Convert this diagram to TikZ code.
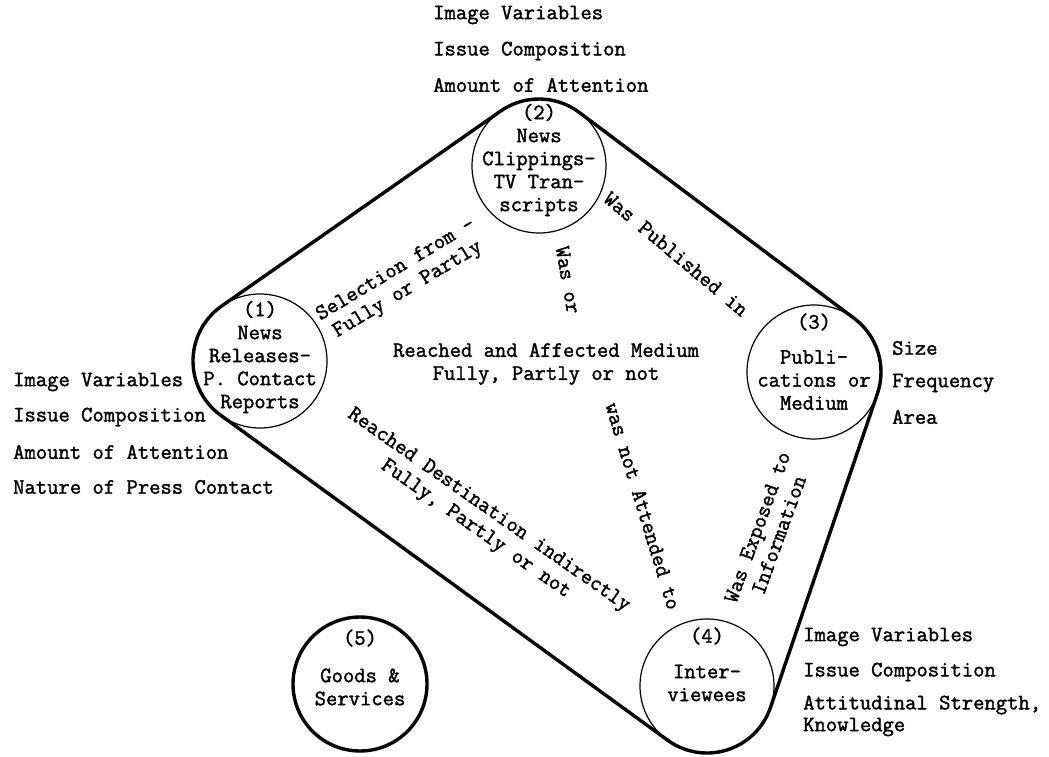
\documentclass[tikz,border=0pt]{standalone}
\usepackage{fontspec}
\newfontfamily\tw{Latin Modern Mono}[FakeBold=1.6]
\usetikzlibrary{calc}
\begin{document}
\begin{tikzpicture}[x=1pt,y=-1pt,
  circ/.style={circle, draw, line width=1.2pt, minimum size=134pt, inner sep=0pt},
  heavy/.style={line width=3.4pt},
  txt/.style={font=\tw\fontsize{22}{23}\selectfont, inner sep=0pt, align=center},
  lab/.style={font=\tw\fontsize{22}{23}\selectfont, inner sep=0pt, anchor=west},
  ]
\useasboundingbox (0,0) rectangle (1049,757);
\def\R{67pt}

% the five stations
\node[circ] (c1) at (260,361) {};
\node[circ] (c2) at (539,166) {};
\node[circ] (c3) at (814,372) {};
\node[circ] (c4) at (707,686) {};
\node[circ, heavy] (c5) at (360,684) {};

% heavy belt wrapped around stations 1 to 4
\draw[heavy, line join=round] let
  \p1=($(c2)-(c1)$), \p2=($(c3)-(c2)$), \p3=($(c4)-(c3)$), \p4=($(c1)-(c4)$),
  \n1={atan2(\y1,\x1)+90}, \n2={atan2(\y2,\x2)+90},
  \n3={atan2(\y3,\x3)+90}, \n4={atan2(\y4,\x4)+90},
  \n5={-Mod(\n1-\n2,360)}, \n6={-Mod(\n2-\n3,360)},
  \n7={-Mod(\n3-\n4,360)}, \n8={-Mod(\n4-\n1,360)}
 in ($(c1)+(\n1:\R)$) -- ($(c2)+(\n1:\R)$)
    arc[start angle=\n1, delta angle=\n5, radius=\R]
    -- ($(c3)+(\n2:\R)$)
    arc[start angle=\n2, delta angle=\n6, radius=\R]
    -- ($(c4)+(\n3:\R)$)
    arc[start angle=\n3, delta angle=\n7, radius=\R]
    -- ($(c1)+(\n4:\R)$)
    arc[start angle=\n4, delta angle=\n8, radius=\R]
    -- cycle;

% texts inside the circles
\node[txt] (t1) at ($(c1)+(0,-4)$) {(1)\\News\\Releases-\\P. Contact\\Reports};
\node[txt] (t2) at ($(c2)+(0,-6)$) {(2)\\News\\Clippings-\\TV Tran-\\scripts};
\node[txt] (n3) at ($(c3)+(0,-50)$) {(3)};
\node[txt] (t3) at ($(c3)+(0,8)$) {Publi-\\cations or\\Medium};
\node[txt] (n4) at ($(c4)+(0,-50)$) {(4)};
\node[txt] (t4) at ($(c4)+(0,-3)$) {Inter-\\viewees};
\node[txt] (n5) at ($(c5)+(0,-46)$) {(5)};
\node[txt] (t5) at ($(c5)+(0,3)$) {Goods \&\\Services};

% variables measured at each station
\node[lab] (v2a) at (433,15) {Image Variables};
\node[lab] (v2b) at (433,51) {Issue Composition};
\node[lab] (v2c) at (433,85) {Amount of Attention};

\node[lab] (v1a) at (13,382) {Image Variables};
\node[lab] (v1b) at (13,417) {Issue Composition};
\node[lab] (v1c) at (13,452) {Amount of Attention};
\node[lab] (v1d) at (13,487) {Nature of Press Contact};

\node[lab] (v3a) at (892,348) {Size};
\node[lab] (v3b) at (892,383) {Frequency};
\node[lab] (v3c) at (892,417) {Area};

\node[lab] (v4a) at (803,637) {Image Variables};
\node[lab] (v4b) at (803,672) {Issue Composition};
\node[lab] (v4c) at (803,705) {Attitudinal Strength,};
\node[lab] (v4d) at (803,727) {Knowledge};

% relations between the stations
\node[txt, rotate=31] (r12) at (402,280) {Selection from -\\Fully or Partly};
\node[txt, rotate=-40] (r23) at (676,254) {Was Published in};
\node[txt, rotate=-80] (r24a) at (568,280) {Was or};
\node[txt] (r13) at (546,364) {Reached and Affected Medium\\Fully, Partly or not};
\node[txt, rotate=-73] (r24b) at (643,506) {was not Attended to};
\node[txt, rotate=-35] (r14) at (482,520) {Reached Destination indirectly\\Fully, Partly or not};
\node[txt, rotate=70] (r34) at (768,531) {Was Exposed to\\Information};
\end{tikzpicture}
\end{document}
